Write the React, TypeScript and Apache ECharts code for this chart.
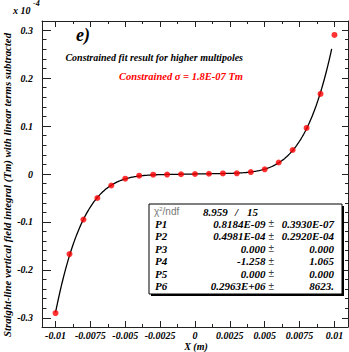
import React, { useEffect, useRef } from "react";
import * as echarts from "echarts";

// data points (x in m, y in units of 1e-4 Tm)
const xValues = [-0.01, -0.009, -0.008, -0.007, -0.006, -0.005, -0.004, -0.003, -0.002, -0.001, 0, 0.001, 0.002, 0.003, 0.004, 0.005, 0.006, 0.007, 0.008, 0.009, 0.01];
const yValues = [-0.29, -0.167, -0.095, -0.05, -0.024, -0.0098, -0.0035, -0.0015, -0.0012, -0.0005, 0, 0.0005, 0.0012, 0.0015, 0.004, 0.0098, 0.024, 0.05, 0.096, 0.167, 0.29];

// fit parameters (Tm units) as printed in the stats box
const fitP1 = 0.8184e-9;
const fitP2 = 0.4981e-4;
const fitP4 = -1.258;
const fitP6 = 0.2963e6;
const fitRange = [-0.01, 0.0098];
const yScale = 1e-4;

// axis ticks
const xMajorTicks = [-0.01, -0.0075, -0.005, -0.0025, 0, 0.0025, 0.005, 0.0075, 0.01];
const xTickLabels = ["-0.01", "-0.0075", "-0.005", "-0.0025", "0", "0.0025", "0.005", "0.0075", "0.01"];
const xMinorTicks = [-0.00875, -0.00625, -0.00375, -0.00125, 0.00125, 0.00375, 0.00625, 0.00875];
const yMajorTicks = [-0.3, -0.2, -0.1, 0, 0.1, 0.2, 0.3];
const yTickLabels = ["-0.3", "-0.2", "-0.1", "0", "0.1", "0.2", "0.3"];
const yMinorTicks = [-0.28, -0.26, -0.24, -0.22, -0.18, -0.16, -0.14, -0.12, -0.08, -0.06, -0.04, -0.02, 0.02, 0.04, 0.06, 0.08, 0.12, 0.14, 0.16, 0.18, 0.22, 0.24, 0.26, 0.28];

// stats box contents
const chi2Value = "8.959";
const ndfValue = "15";
const paramNames = ["P1", "P2", "P3", "P4", "P5", "P6"];
const paramValues = ["0.8184E-09", "0.4981E-04", "0.000", "-1.258", "0.000", "0.2963E+06"];
const paramErrors = ["0.3930E-07", "0.2920E-04", "0.000", "1.065", "0.000", "8623."];

const SERIF = "'Liberation Serif', 'Times New Roman', serif";
const SANS = "'Liberation Sans', 'DejaVu Sans', sans-serif";

function fitCurve(): number[][] {
  const pts: number[][] = [];
  const n = 300;
  for (let i = 0; i <= n; i++) {
    const x = fitRange[0] + ((fitRange[1] - fitRange[0]) * i) / n;
    const y = fitP1 + fitP2 * x + fitP4 * x * x * x + fitP6 * Math.pow(x, 5);
    pts.push([x, y / yScale]);
  }
  return pts;
}

export default function App() {
  const ref = useRef<HTMLDivElement>(null);
  useEffect(() => {
    if (!ref.current) return;
    const chart = echarts.init(ref.current, null, { renderer: "svg" });
    const lineColor = "#222";
    const labelStyle = {
      fontFamily: SERIF,
      fontWeight: "bold" as const,
      fontStyle: "italic" as const,
      fontSize: 10,
      color: "#000",
    };
    const xMin = -0.01097, xMax = 0.01097;
    const yMin = -0.319, yMax = 0.319;
    const mkX = (position: string, ticks: number[], len: number, showLine: boolean, labels: boolean) => ({
      type: "value",
      position,
      min: xMin,
      max: xMax,
      splitLine: { show: false },
      axisLine: { show: showLine, onZero: false, lineStyle: { color: lineColor, width: 1 } },
      axisTick: { show: true, inside: true, length: len, customValues: ticks, lineStyle: { color: lineColor } },
      axisLabel: labels
        ? {
            show: true,
            customValues: xMajorTicks,
            margin: 3,
            formatter: (v: number) => {
              const i = xMajorTicks.findIndex((t) => Math.abs(t - v) < 1e-9);
              return i >= 0 ? xTickLabels[i] : "";
            },
            ...labelStyle,
          }
        : { show: false },
    });
    const mkY = (position: string, ticks: number[], len: number, showLine: boolean, labels: boolean) => ({
      type: "value",
      position,
      min: yMin,
      max: yMax,
      splitLine: { show: false },
      axisLine: { show: showLine, onZero: false, lineStyle: { color: lineColor, width: 1 } },
      axisTick: { show: true, inside: true, length: len, customValues: ticks, lineStyle: { color: lineColor } },
      axisLabel: labels
        ? {
            show: true,
            customValues: yMajorTicks,
            margin: 9,
            formatter: (v: number) => {
              const i = yMajorTicks.findIndex((t) => Math.abs(t - v) < 1e-9);
              return i >= 0 ? yTickLabels[i] : "";
            },
            ...labelStyle,
          }
        : { show: false },
    });

    const boxX = 149, boxY = 204, boxW = 193, boxH = 90;
    const rowY0 = 211.5, rowStep = 12.45;
    const statText: any[] = [];
    const T = (x: number, y: number, style: any) => ({ type: "text", x, y, z: 20, style: { verticalAlign: "middle", ...style } });
    statText.push(
      T(154, rowY0, {
        text: "{a|χ}{s|2}{a|/ndf}",
        textAlign: "left",
        rich: {
          a: { fontFamily: SANS, fontSize: 10, fill: "#777", color: "#777" },
          s: { fontFamily: SANS, fontSize: 6, fill: "#777", color: "#777", verticalAlign: "top", padding: [0, 0, 6, 0] },
        },
      })
    );
    const statFont = { fontFamily: SERIF, fontWeight: "bold", fontStyle: "italic", fontSize: 11, fill: "#000" };
    statText.push(T(203, rowY0, { text: chi2Value, textAlign: "left", ...statFont }));
    statText.push(T(235, rowY0, { text: "/", textAlign: "left", ...statFont }));
    statText.push(T(247, rowY0, { text: ndfValue, textAlign: "left", ...statFont }));
    paramNames.forEach((name, i) => {
      const y = rowY0 + rowStep * (i + 1);
      statText.push(T(155, y, { text: name, textAlign: "left", ...statFont }));
      statText.push(T(265.5, y, { text: paramValues[i], textAlign: "right", ...statFont }));
      statText.push(T(268.5, y, { text: "±", textAlign: "left", fontFamily: SANS, fontSize: 10, fill: "#444" }));
      statText.push(T(334, y, { text: paramErrors[i], textAlign: "right", ...statFont }));
    });

    chart.setOption({
      animation: false,
      backgroundColor: "#fff",
      grid: { left: 42, right: 1, top: 21, bottom: 25, containLabel: false, outerBoundsMode: "none" },
      xAxis: [
        mkX("bottom", xMajorTicks, 6, true, true),
        mkX("bottom", xMinorTicks, 3, false, false),
        mkX("top", xMajorTicks, 6, true, false),
        mkX("top", xMinorTicks, 3, false, false),
      ],
      yAxis: [
        mkY("left", yMajorTicks, 9, true, true),
        mkY("left", yMinorTicks, 4.5, false, false),
        mkY("right", yMajorTicks, 6, true, false),
        mkY("right", yMinorTicks, 3, false, false),
      ],
      series: [
        {
          type: "line",
          data: fitCurve(),
          showSymbol: false,
          symbol: "none",
          lineStyle: { color: "#000", width: 1.3 },
          xAxisIndex: 0,
          yAxisIndex: 0,
          z: 2,
        },
        {
          type: "scatter",
          data: xValues.map((x, i) => [x, yValues[i]]),
          symbol: "circle",
          symbolSize: 6,
          itemStyle: { color: "#ff0000" },
          xAxisIndex: 0,
          yAxisIndex: 0,
          z: 3,
        },
      ],
      graphic: [
        { type: "text", x: 13, y: 10, style: { text: "x 10", verticalAlign: "middle", textAlign: "left", fontFamily: SERIF, fontWeight: "bold", fontStyle: "italic", fontSize: 10, fill: "#000" } },
        { type: "text", x: 33, y: 3, style: { text: "-4", verticalAlign: "middle", textAlign: "left", fontFamily: SERIF, fontWeight: "bold", fontStyle: "italic", fontSize: 8, fill: "#000" } },
        { type: "text", x: 76, y: 35, style: { text: "e)", verticalAlign: "middle", textAlign: "left", fontFamily: SERIF, fontWeight: "bold", fontStyle: "italic", fontSize: 18, fill: "#000" } },
        { type: "text", x: 243, y: 57, style: { text: "Constrained fit result for higher multipoles", verticalAlign: "middle", textAlign: "right", fontFamily: SERIF, fontWeight: "bold", fontStyle: "italic", fontSize: 10, fill: "#000" } },
        { type: "text", x: 243, y: 76, style: { text: "Constrained σ = 1.8E-07 Tm", verticalAlign: "middle", textAlign: "right", fontFamily: SERIF, fontWeight: "bold", fontStyle: "italic", fontSize: 10.5, fill: "#ff0000" } },
        { type: "text", x: 7, y: 185, rotation: Math.PI / 2, style: { text: "Straight-line vertical field integral (Tm) with linear terms subtracted", verticalAlign: "middle", textAlign: "center", fontFamily: SERIF, fontWeight: "bold", fontStyle: "italic", fontSize: 10.8, fill: "#000" } },
        { type: "text", x: 196, y: 346, style: { text: "X (m)", verticalAlign: "middle", textAlign: "center", fontFamily: SERIF, fontWeight: "bold", fontStyle: "italic", fontSize: 10, fill: "#000" } },
        { type: "rect", shape: { x: boxX + 2, y: boxY + 2, width: boxW, height: boxH }, style: { fill: "#000" }, z: 10 },
        { type: "rect", shape: { x: boxX, y: boxY, width: boxW, height: boxH }, style: { fill: "#fff", stroke: "#000", lineWidth: 1 }, z: 11 },
        ...statText,
      ],
    });
    return () => chart.dispose();
  }, []);
  return <div ref={ref} style={{ width: 349, height: 352, position: "absolute", left: 0, top: 0 }} />;
}
